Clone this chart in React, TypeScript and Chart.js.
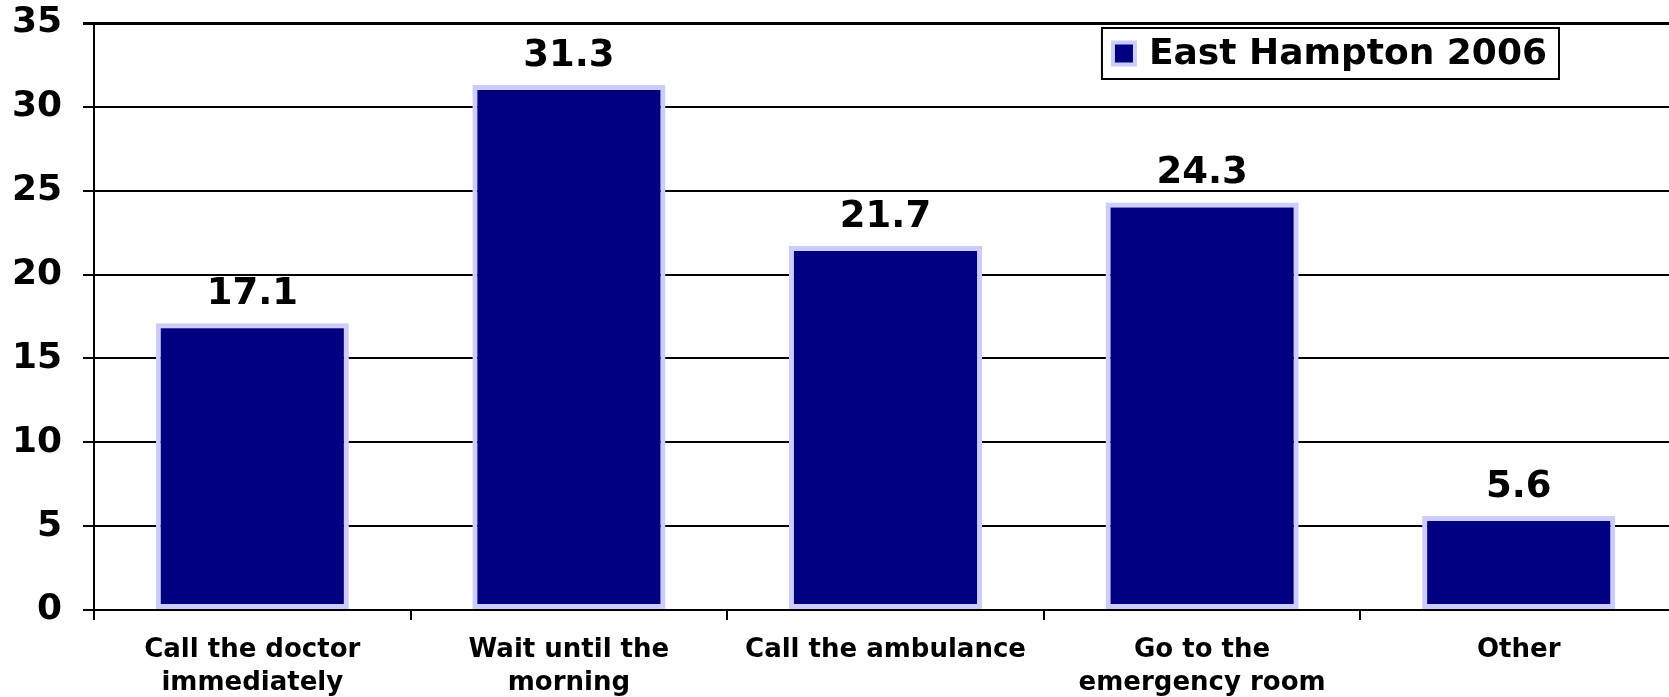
import React, { useEffect, useRef } from "react";
import { Chart, registerables } from "chart.js";

Chart.register(...registerables);

const categories: (string | string[])[] = [
  ["Call the doctor", "immediately"],
  ["Wait until the", "morning"],
  "Call the ambulance",
  ["Go to the", "emergency room"],
  "Other",
];
const seriesLabel = "East Hampton 2006";
const values = [17.1, 31.3, 21.7, 24.3, 5.6];
const yMin = 0;
const yMax = 35;
const yStep = 5;

const FONT = "'DejaVu Sans', Verdana, sans-serif";
const FILL = "#000080";
const EDGE = "#ccccff";

const valueLabels = {
  id: "valueLabels",
  afterDatasetsDraw(chart: any) {
    const ctx = chart.ctx;
    const meta = chart.getDatasetMeta(0);
    ctx.save();
    ctx.font = `bold 37px ${FONT}`;
    ctx.fillStyle = "#000";
    ctx.textAlign = "center";
    ctx.textBaseline = "middle";
    meta.data.forEach((bar: any, i: number) => {
      ctx.fillText(values[i].toFixed(1), bar.x, bar.y - 29);
    });
    ctx.restore();
  },
};

const boxedLegend = {
  id: "boxedLegend",
  afterDraw(chart: any) {
    const ctx = chart.ctx;
    const area = chart.chartArea;
    const ds = chart.data.datasets[0];
    ctx.save();
    ctx.font = `bold 36px ${FONT}`;
    const tw = ctx.measureText(ds.label).width;
    const right = area.right - 118;
    const top = area.top + 5;
    const h = 51;
    const w = tw + 47 + 12;
    const left = right - w;
    ctx.fillStyle = "#fff";
    ctx.fillRect(left, top, w, h);
    ctx.strokeStyle = "#000";
    ctx.lineWidth = 2;
    ctx.strokeRect(left, top, w, h);
    const sx = left + 9;
    const sy = top + h / 2 - 13;
    ctx.fillStyle = ds.borderColor;
    ctx.fillRect(sx, sy, 26, 26);
    ctx.fillStyle = ds.backgroundColor;
    ctx.fillRect(sx + 4, sy + 4, 18, 18);
    ctx.fillStyle = "#000";
    ctx.textAlign = "left";
    ctx.textBaseline = "middle";
    ctx.fillText(ds.label, left + 47, top + h / 2 + 1);
    ctx.restore();
  },
};

export default function App() {
  const ref = useRef<HTMLCanvasElement>(null);
  useEffect(() => {
    if (!ref.current) return;
    const chart = new Chart(ref.current, {
      type: "bar",
      data: {
        labels: categories,
        datasets: [
          {
            label: seriesLabel,
            data: values,
            backgroundColor: FILL,
            borderColor: EDGE,
            borderWidth: 5,
            borderSkipped: false,
            categoryPercentage: 1,
            barPercentage: 0.61,
          },
        ],
      },
      options: {
        responsive: false,
        animation: false,
        devicePixelRatio: 1,
        layout: { padding: { top: 23, right: 13, left: 0, bottom: 0 } },
        plugins: {
          legend: { display: false },
          tooltip: { enabled: false },
        },
        scales: {
          x: {
            afterFit(scale: any) {
              scale.height = 87;
            },
            grid: {
              drawOnChartArea: false,
              drawTicks: true,
              tickLength: 10,
              color: "#000",
              lineWidth: 2,
              offset: true,
            },
            border: { display: true, color: "#000", width: 2 },
            ticks: {
              color: "#000",
              font: { family: FONT, size: 26, weight: "bold", lineHeight: 1.3 },
              padding: 13,
              maxRotation: 0,
              autoSkip: false,
            },
          },
          y: {
            min: yMin,
            max: yMax,
            afterFit(scale: any) {
              scale.width = 94;
              scale.paddingTop = 0;
              scale.paddingBottom = 0;
            },
            grid: {
              color: "#000",
              lineWidth: (c: any) => (c.tick && c.tick.value === yMax ? 3 : 2),
              tickLength: 11,
              drawTicks: true,
            },
            border: { display: true, color: "#000", width: 2 },
            ticks: {
              stepSize: yStep,
              color: "#000",
              padding: 21,
              font: { family: FONT, size: 36, weight: "bold" },
            },
          },
        },
      },
      plugins: [valueLabels, boxedLegend],
    });
    return () => chart.destroy();
  }, []);
  return (
    <div
      style={{
        position: "absolute",
        left: 0,
        top: 0,
        width: 1669,
        height: 697,
        overflow: "hidden",
        background: "#fff",
      }}
    >
      <canvas ref={ref} width={1690} height={697} style={{ width: 1690, height: 697 }} />
    </div>
  );
}
